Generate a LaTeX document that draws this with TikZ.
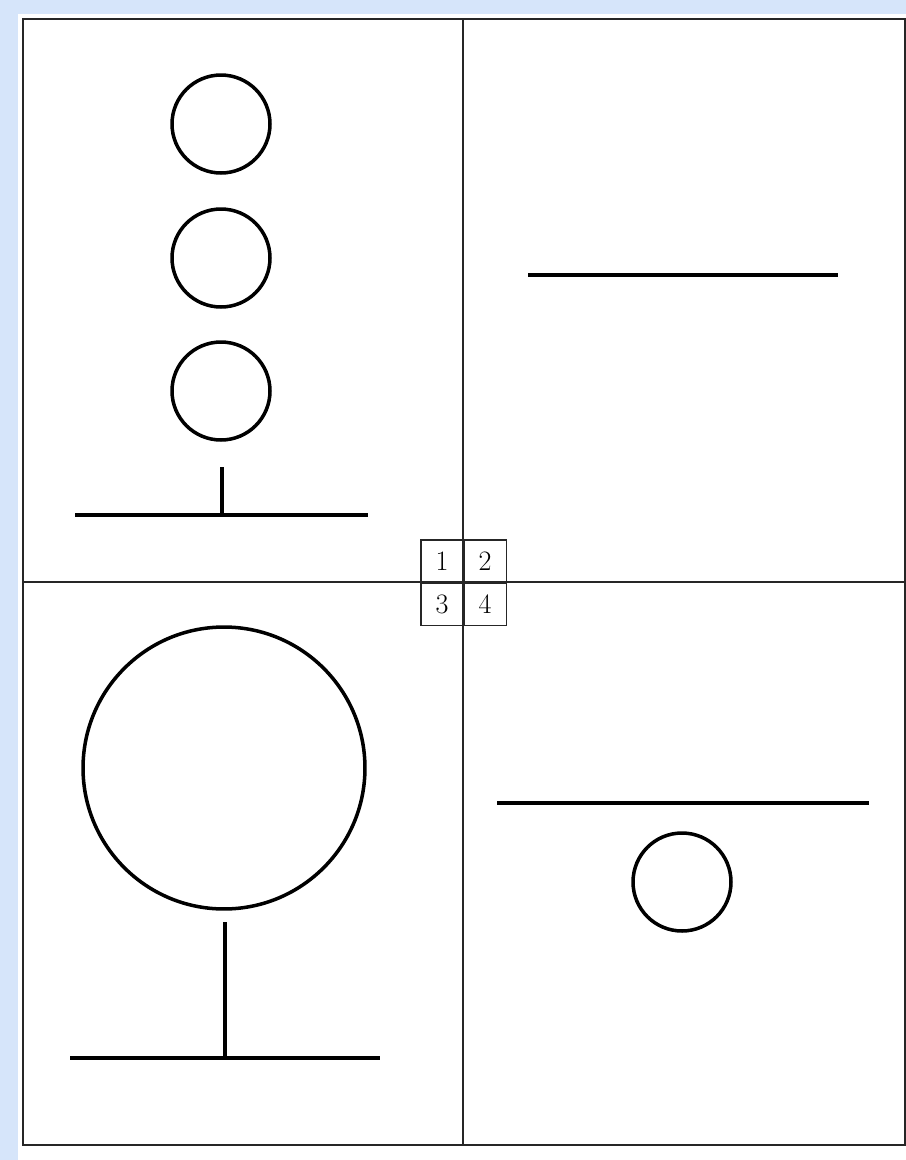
\documentclass[tikz,border=0pt]{standalone}
\usetikzlibrary{positioning}

\definecolor{pageblue}{RGB}{214,229,250}

\begin{document}
\begin{tikzpicture}[
    x=0.02cm, y=-0.02cm,
    frameline/.style={draw=black!85, line width=0.8pt},
    figline/.style={draw=black, line width=2pt},
    ball/.style={circle, draw=black, line width=2pt, inner sep=0pt},
    numcell/.style={rectangle, draw=black!85, line width=0.6pt, minimum size=0.84cm, inner sep=0pt, font=\fontsize{16}{19}\selectfont}
]

    % --- PAGE & FRAME ---
    \fill [pageblue] (0,0) rectangle (906,1160);
    \fill [white] (18,14) rectangle (906,1160);
    \useasboundingbox (0,0) rectangle (906,1160);

    \draw [frameline] (23,19) rectangle (905,1145);
    \draw [frameline] (463,19) -- (463,1145);
    \draw [frameline] (23,582) -- (905,582);

    % --- QUADRANT 1: three balls on a stand ---
    \node [ball, minimum size=1.96cm] (b1) at (221,124) {};
    \node [ball, minimum size=1.96cm] (b2) at (221,258) {};
    \node [ball, minimum size=1.96cm] (b3) at (221,391) {};
    \draw [figline] (222,467) -- (222,515);
    \draw [figline] (75,515) -- (368,515);

    % --- QUADRANT 2: single bar ---
    \draw [figline] (528,275) -- (838,275);

    % --- QUADRANT 3: big ball on a stand ---
    \node [ball, minimum size=5.64cm] (big) at (224,768) {};
    \draw [figline] (225,922) -- (225,1058);
    \draw [figline] (70,1058) -- (380,1058);

    % --- QUADRANT 4: bar above a small ball ---
    \draw [figline] (497,803) -- (869,803);
    \node [ball, minimum size=1.96cm] (small) at (682,882) {};

    % --- NUMBER KEY ---
    \node [numcell] (n1) at (442,561) {1};
    \node [numcell, right=0pt of n1] (n2) {2};
    \node [numcell, below=0pt of n1] (n3) {3};
    \node [numcell, right=0pt of n3] (n4) {4};

\end{tikzpicture}
\end{document}
